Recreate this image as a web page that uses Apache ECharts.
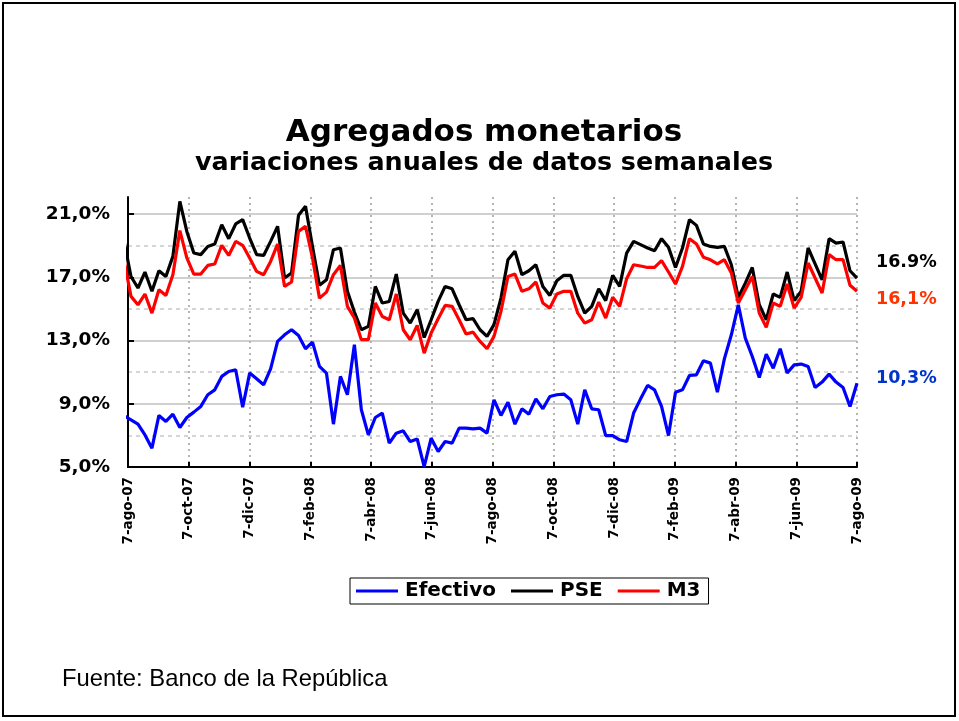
<!DOCTYPE html>
<html>
<head>
<meta charset="utf-8">
<title>Agregados monetarios</title>
<script src="https://cdn.jsdelivr.net/npm/echarts@6.0.0/dist/echarts.min.js"></script>
<style>
  html, body { margin: 0; padding: 0; background: #fff; }
  #chart { width: 959px; height: 721px; }
</style>
</head>
<body>
<div id="chart"></div>
<script>
// datos semanales (viernes), el primero cae antes del inicio del eje
const firstWeek = '2007-08-03'
const axisStart = '2007-08-07'
const axisEnd = '2009-08-07'
const tickLabels = ['7-ago-07', '7-oct-07', '7-dic-07', '7-feb-08', '7-abr-08', '7-jun-08', '7-ago-08',
    '7-oct-08', '7-dic-08', '7-feb-09', '7-abr-09', '7-jun-09', '7-ago-09']
const seriesNames = ['Efectivo', 'PSE', 'M3']
const lastValues = ['16.9%', '16,1%', '10,3%']

const efectivo = [8.24,
    7.98, 7.71, 7.03, 6.19, 8.26, 7.88, 8.34, 7.5, 8.13, 8.47,
    8.83, 9.57, 9.88, 10.73, 11.04, 11.15, 8.78, 10.94, 10.58, 10.2,
    11.2, 12.94, 13.36, 13.68, 13.32, 12.48, 12.9, 11.36, 10.94, 7.71,
    10.73, 9.57, 12.73, 8.62, 7.03, 8.13, 8.41, 6.51, 7.14, 7.29,
    6.61, 6.77, 5.03, 6.82, 5.98, 6.61, 6.51, 7.46, 7.46, 7.41,
    7.46, 7.14, 9.25, 8.26, 9.1, 7.71, 8.68, 8.34, 9.31, 8.68,
    9.46, 9.57, 9.61, 9.25, 7.71, 9.88, 8.68, 8.62, 6.99, 6.99,
    6.72, 6.61, 8.41, 9.31, 10.16, 9.88, 8.83, 6.99, 9.73, 9.88,
    10.79, 10.83, 11.72, 11.57, 9.73, 11.84, 13.36, 15.26, 13.15, 11.99,
    10.66, 12.14, 11.25, 12.48, 10.94, 11.46, 11.51, 11.36, 10.03, 10.37,
    10.87, 10.37, 10.03, 8.83, 10.3]

const pse = [19.3,
    17.05, 16.32, 17.33, 16.11, 17.41, 17.05, 18.32, 21.8, 19.9, 18.53,
    18.43, 18.95, 19.1, 20.32, 19.44, 20.37, 20.64, 19.48, 18.43, 18.38,
    19.27, 20.22, 16.95, 17.27, 20.92, 21.49, 18.95, 16.49, 16.84, 18.74,
    18.85, 16.11, 14.8, 13.68, 13.89, 16.42, 15.37, 15.47, 17.2, 14.73,
    14.1, 14.95, 13.19, 14.31, 15.47, 16.42, 16.27, 15.26, 14.31, 14.38,
    13.68, 13.26, 14.0, 15.68, 18.11, 18.64, 17.16, 17.41, 17.79, 16.42,
    15.85, 16.78, 17.12, 17.12, 15.79, 14.73, 15.16, 16.27, 15.52, 17.12,
    16.42, 18.53, 19.27, 19.06, 18.85, 18.68, 19.44, 18.89, 17.62, 18.85,
    20.64, 20.28, 19.1, 18.95, 18.89, 18.95, 17.79, 15.73, 16.63, 17.62,
    15.26, 14.31, 15.94, 15.73, 17.33, 15.52, 16.11, 18.85, 17.84, 16.84,
    19.44, 19.16, 19.23, 17.41, 16.95]

const m3 = [18.1,
    15.79, 15.26, 15.94, 14.73, 16.21, 15.85, 17.16, 19.95, 18.22, 17.2,
    17.2, 17.75, 17.84, 19.02, 18.38, 19.27, 19.02, 18.22, 17.37, 17.16,
    18.0, 19.1, 16.42, 16.7, 19.9, 20.22, 18.22, 15.68, 16.06, 17.16,
    17.75, 15.16, 14.42, 13.05, 13.05, 15.37, 14.52, 14.31, 15.94, 13.68,
    13.05, 13.95, 12.2, 13.47, 14.38, 15.22, 15.16, 14.31, 13.41, 13.53,
    12.94, 12.48, 13.26, 14.84, 17.05, 17.2, 16.11, 16.27, 16.7, 15.37,
    15.05, 15.94, 16.11, 16.11, 14.73, 14.1, 14.31, 15.43, 14.42, 15.73,
    15.16, 16.91, 17.79, 17.71, 17.62, 17.62, 18.05, 17.33, 16.57, 17.69,
    19.44, 19.1, 18.26, 18.1, 17.84, 18.11, 17.27, 15.37, 16.21, 17.05,
    14.73, 13.83, 15.37, 15.16, 16.57, 15.05, 15.73, 17.9, 16.95, 16.0,
    18.43, 18.11, 18.11, 16.49, 16.11]

const DAY = 86400000
const t0 = Date.parse(axisStart)
const spanDays = (Date.parse(axisEnd) - t0) / DAY
const periods = tickLabels.length - 1
// posición en el eje: unidades de "bimestre" (un intervalo entre marcas)
const xPos = efectivo.map((v, i) => ((Date.parse(firstWeek) - t0) / DAY + 7 * i) * periods / spanDays)
const pair = arr => arr.map((v, i) => [xPos[i], v])

const plotLeft = 128, plotRight = 102, plotBottom = 254
const gridTop = 214, plotTop = 197
const yMax = 5 + 16 * (721 - plotBottom - plotTop) / (721 - plotBottom - gridTop)

const boldFont = 'DejaVu Sans'
const pct = v => v.toFixed(1).replace('.', ',') + '%'

const myChart = echarts.init(document.getElementById('chart'))
myChart.setOption({
    animation: false,
    backgroundColor: '#fff',
    grid: [
        { left: plotLeft, right: plotRight, top: gridTop, bottom: plotBottom },
        { left: plotLeft, right: plotRight, top: plotTop, bottom: plotBottom }
    ],
    legend: {
        data: seriesNames.map(name => ({ name, icon: 'rect' })),
        left: 350,
        top: 578,
        orient: 'horizontal',
        borderColor: '#000',
        borderWidth: 1,
        padding: [3, 8, 3, 6],
        itemGap: 15,
        itemWidth: 42,
        itemHeight: 3,
        textStyle: { fontFamily: boldFont, fontWeight: 'bold', fontSize: 20, color: '#000', padding: [0, 0, 0, 2] }
    },
    xAxis: [
        { gridIndex: 0, type: 'value', min: 0, max: periods, show: false },
        {
            gridIndex: 1,
            type: 'value',
            min: 0,
            max: periods,
            interval: 1,
            axisLine: { show: true, lineStyle: { color: '#000', width: 2 } },
            axisTick: { show: true, inside: true, length: 5, lineStyle: { color: '#000', width: 2 } },
            axisLabel: {
                rotate: 90,
                margin: 10,
                formatter: v => tickLabels[Math.round(v)],
                fontFamily: boldFont,
                fontWeight: 'bold',
                fontSize: 13.5,
                color: '#000'
            },
            splitLine: { show: true, lineStyle: { color: '#b4b4b4', width: 2, type: [2, 4] } }
        }
    ],
    yAxis: [
        {
            gridIndex: 0,
            type: 'value',
            min: 5,
            max: 21,
            interval: 4,
            axisLine: { show: true, lineStyle: { color: '#000', width: 2 } },
            axisTick: { show: true, inside: true, length: 6, lineStyle: { color: '#000', width: 2 } },
            axisLabel: {
                margin: 18,
                formatter: pct,
                fontFamily: boldFont,
                fontWeight: 'bold',
                fontSize: 18.5,
                color: '#000'
            },
            splitLine: { show: true, lineStyle: { color: '#c0c0c0', width: 1.5 } },
            minorTick: { show: false, splitNumber: 2 },
            minorSplitLine: { show: true, lineStyle: { color: '#c8c8c8', width: 1.5, type: [4, 4] } }
        },
        {
            gridIndex: 1,
            type: 'value',
            min: 5,
            max: yMax,
            axisLine: { show: true, lineStyle: { color: '#000', width: 2 } },
            axisTick: { show: false },
            axisLabel: { show: false },
            splitLine: { show: false }
        }
    ],
    series: [
        { name: 'Efectivo', type: 'line', xAxisIndex: 1, yAxisIndex: 1, symbol: 'none', color: '#0000ff',
          lineStyle: { width: 3.2 }, data: pair(efectivo) },
        { name: 'PSE', type: 'line', xAxisIndex: 1, yAxisIndex: 1, symbol: 'none', color: '#000000',
          lineStyle: { width: 3.2 }, data: pair(pse) },
        { name: 'M3', type: 'line', xAxisIndex: 1, yAxisIndex: 1, symbol: 'none', color: '#ff0000',
          lineStyle: { width: 3.2 }, data: pair(m3) }
    ],
    graphic: [
        { type: 'rect', shape: { x: 3, y: 3, width: 952, height: 713 },
          style: { fill: 'none', stroke: '#000', lineWidth: 2 }, silent: true },
        { type: 'text', style: { x: 484, y: 133, text: 'Agregados monetarios', textAlign: 'center', textVerticalAlign: 'middle',
          font: 'bold 31px "DejaVu Sans"', fill: '#000' } },
        { type: 'text', style: { x: 484, y: 163, text: 'variaciones anuales de datos semanales', textAlign: 'center', textVerticalAlign: 'middle',
          font: 'bold 25.4px "DejaVu Sans"', fill: '#000' } },
        { type: 'text', style: { x: 876, y: 262, text: lastValues[0], textVerticalAlign: 'middle',
          font: 'bold 17.5px "DejaVu Sans"', fill: '#000' } },
        { type: 'text', style: { x: 876, y: 299, text: lastValues[1], textVerticalAlign: 'middle',
          font: 'bold 17.5px "DejaVu Sans"', fill: '#ff3300' } },
        { type: 'text', style: { x: 876, y: 378, text: lastValues[2], textVerticalAlign: 'middle',
          font: 'bold 17.5px "DejaVu Sans"', fill: '#0033cc' } },
        { type: 'text', style: { x: 62, y: 679, text: 'Fuente: Banco de la República', textVerticalAlign: 'middle',
          font: '23.8px "Liberation Sans"', fill: '#000' } }
    ]
})
</script>
</body>
</html>
